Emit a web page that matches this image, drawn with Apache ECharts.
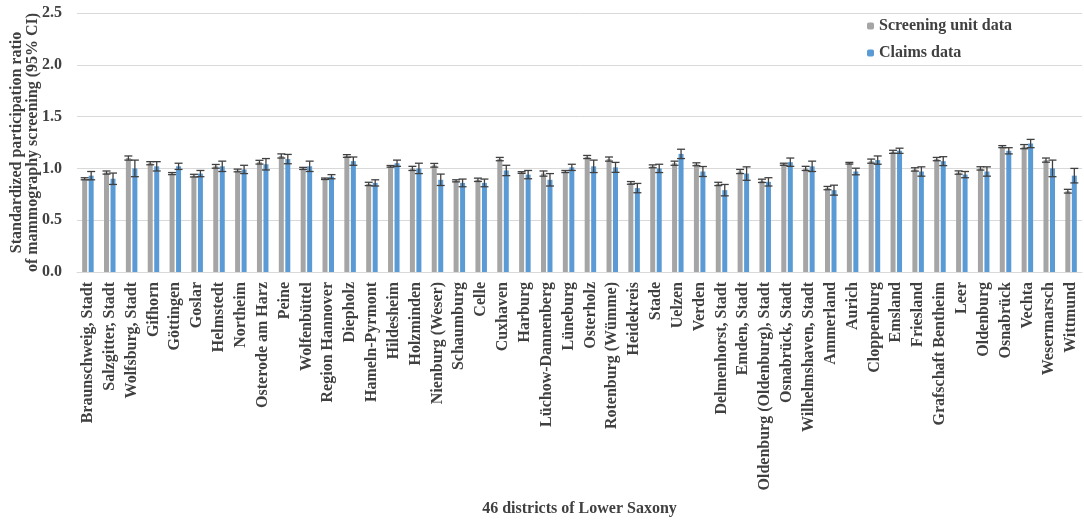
<!DOCTYPE html>
<html>
<head>
<meta charset="utf-8">
<script src="https://cdn.jsdelivr.net/npm/echarts@6/dist/echarts.min.js"></script>
<style>
  html, body { margin: 0; padding: 0; background: #ffffff; }
  #main { width: 1084px; height: 520px; }
</style>
</head>
<body>
<div id="main"></div>
<script>
let districts = [
    'Braunschweig, Stadt', 'Salzgitter, Stadt', 'Wolfsburg, Stadt', 'Gifhorn', 'Göttingen',
    'Goslar', 'Helmstedt', 'Northeim', 'Osterode am Harz', 'Peine', 'Wolfenbüttel',
    'Region Hannover', 'Diepholz', 'Hameln-Pyrmont', 'Hildesheim', 'Holzminden',
    'Nienburg (Weser)', 'Schaumburg', 'Celle', 'Cuxhaven', 'Harburg', 'Lüchow-Dannenberg',
    'Lüneburg', 'Osterholz', 'Rotenburg (Wümme)', 'Heidekreis', 'Stade', 'Uelzen', 'Verden',
    'Delmenhorst, Stadt', 'Emden, Stadt', 'Oldenburg (Oldenburg), Stadt', 'Osnabrück, Stadt',
    'Wilhelmshaven, Stadt', 'Ammerland', 'Aurich', 'Cloppenburg', 'Emsland', 'Friesland',
    'Grafschaft Bentheim', 'Leer', 'Oldenburg', 'Osnabrück', 'Vechta', 'Wesermarsch', 'Wittmund'
];

// standardized participation ratio, screening unit data
let screening = [0.90, 0.96, 1.10, 1.05, 0.95, 0.93, 1.02, 0.98, 1.06, 1.12,
                 1.00, 0.90, 1.12, 0.85, 1.02, 1.00, 1.03, 0.88, 0.89, 1.09,
                 0.96, 0.95, 0.97, 1.11, 1.09, 0.86, 1.02, 1.05, 1.04, 0.85,
                 0.97, 0.88, 1.04, 1.00, 0.81, 1.05, 1.07, 1.16, 0.99, 1.09,
                 0.96, 1.00, 1.21, 1.21, 1.08, 0.78];
// half width of the 95% CI
let screeningErr = [0.01, 0.015, 0.02, 0.015, 0.01, 0.013, 0.018, 0.013, 0.018, 0.02,
                    0.01, 0.007, 0.013, 0.016, 0.008, 0.02, 0.018, 0.01, 0.016, 0.016,
                    0.008, 0.025, 0.01, 0.015, 0.02, 0.013, 0.014, 0.02, 0.014, 0.016,
                    0.02, 0.016, 0.01, 0.02, 0.016, 0.008, 0.02, 0.015, 0.016, 0.016,
                    0.016, 0.016, 0.01, 0.02, 0.02, 0.018];

// standardized participation ratio, claims data
let claims = [0.93, 0.90, 1.00, 1.02, 1.02, 0.95, 1.02, 0.99, 1.04, 1.09,
              1.02, 0.92, 1.07, 0.86, 1.05, 1.00, 0.89, 0.86, 0.86, 0.98,
              0.94, 0.89, 1.01, 1.02, 1.01, 0.81, 1.00, 1.14, 0.97, 0.79,
              0.95, 0.87, 1.06, 1.02, 0.79, 0.97, 1.08, 1.17, 0.97, 1.07,
              0.94, 0.97, 1.17, 1.24, 1.00, 0.93];
let claimsErr = [0.04, 0.055, 0.08, 0.045, 0.03, 0.03, 0.05, 0.04, 0.055, 0.045,
                 0.05, 0.02, 0.04, 0.03, 0.03, 0.05, 0.055, 0.037, 0.037, 0.05,
                 0.04, 0.06, 0.03, 0.06, 0.048, 0.045, 0.04, 0.045, 0.048, 0.055,
                 0.065, 0.04, 0.04, 0.05, 0.048, 0.032, 0.04, 0.025, 0.045, 0.043,
                 0.03, 0.045, 0.03, 0.04, 0.08, 0.07];

let yTicks = [0, 0.5, 1.0, 1.5, 2.0, 2.5];

let FONT = "'Liberation Serif', 'DejaVu Serif', serif";
let TEXT = '#404040';

function ciData(values, errs) {
    return values.map(function (v, i) {
        return [i, v - errs[i], v + errs[i]];
    });
}

function errorBars(offset) {
    return function (params, api) {
        let i = api.value(0);
        let lo = api.coord([i, api.value(1)]);
        let hi = api.coord([i, api.value(2)]);
        let x = lo[0] + offset;
        let cap = 4;
        let style = {stroke: '#404040', lineWidth: 1.3};
        return {
            type: 'group',
            children: [
                {type: 'line', shape: {x1: x, y1: lo[1], x2: x, y2: hi[1]}, style: style},
                {type: 'line', shape: {x1: x - cap, y1: lo[1], x2: x + cap, y2: lo[1]}, style: style},
                {type: 'line', shape: {x1: x - cap, y1: hi[1], x2: x + cap, y2: hi[1]}, style: style}
            ]
        };
    };
}

let option = {
    animation: false,
    backgroundColor: '#ffffff',
    textStyle: {fontFamily: FONT},
    grid: {left: 77, right: 2, top: 13, bottom: 248, containLabel: false, outerBoundsMode: 'none'},
    legend: {
        orient: 'vertical',
        left: 862,
        top: 13,
        itemWidth: 7,
        itemHeight: 7,
        itemGap: 11,
        data: ['Screening unit data', 'Claims data'],
        textStyle: {fontFamily: FONT, fontWeight: 'bold', fontSize: 16, color: TEXT}
    },
    xAxis: {
        type: 'category',
        data: districts,
        name: '46 districts of Lower Saxony',
        nameLocation: 'middle',
        nameGap: 229,
        nameMoveOverlap: false,
        nameTextStyle: {fontFamily: FONT, fontWeight: 'bold', fontSize: 16, color: TEXT},
        axisLine: {lineStyle: {color: '#d9d9d9'}},
        axisTick: {show: false},
        axisLabel: {
            rotate: 90,
            interval: 0,
            margin: 10,
            fontFamily: FONT,
            fontWeight: 'bold',
            fontSize: 16,
            color: TEXT
        }
    },
    yAxis: {
        type: 'value',
        min: 0,
        max: 2.5,
        interval: 0.5,
        name: 'Standardized participation ratio\nof mammography screening (95% CI)',
        nameLocation: 'middle',
        nameGap: 36,
        nameMoveOverlap: false,
        nameTextStyle: {fontFamily: FONT, fontWeight: 'bold', fontSize: 16, color: TEXT, lineHeight: 16},
        axisLine: {show: false},
        axisTick: {show: false},
        splitLine: {lineStyle: {color: '#d9d9d9'}},
        axisLabel: {
            fontFamily: FONT,
            fontWeight: 'bold',
            fontSize: 16,
            color: TEXT,
            margin: 15,
            formatter: function (v) {
                return yTicks.indexOf(v) >= 0 ? v.toFixed(1) : '';
            }
        }
    },
    series: [
        {
            name: 'Screening unit data',
            type: 'bar',
            data: screening,
            barWidth: 5,
            barGap: '30%',
            itemStyle: {color: '#a5a5a5'}
        },
        {
            name: 'Claims data',
            type: 'bar',
            data: claims,
            barWidth: 5,
            itemStyle: {color: '#5b9bd5'}
        },
        {
            type: 'custom',
            renderItem: errorBars(-3.25),
            data: ciData(screening, screeningErr),
            encode: {x: 0, y: [1, 2]},
            z: 3
        },
        {
            type: 'custom',
            renderItem: errorBars(3.25),
            data: ciData(claims, claimsErr),
            encode: {x: 0, y: [1, 2]},
            z: 3
        }
    ]
};

let chart = echarts.init(document.getElementById('main'));
chart.setOption(option);
</script>
</body>
</html>
